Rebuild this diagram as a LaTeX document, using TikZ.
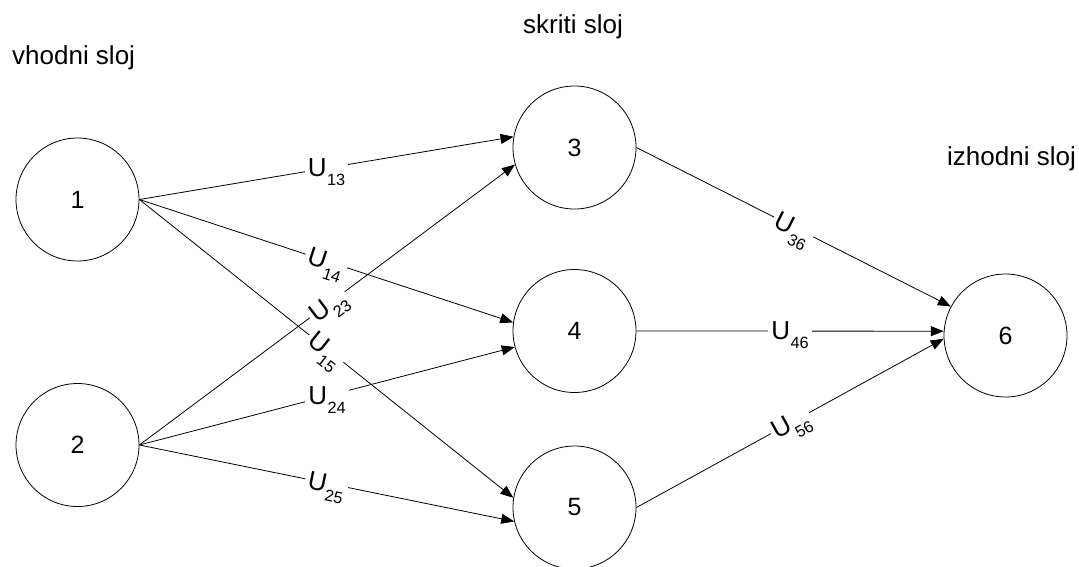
\documentclass[tikz,border=0pt]{standalone}
\usepackage{fontspec}
\setmainfont{Liberation Sans}
\usetikzlibrary{arrows.meta}
% weight label: U with a lowered index that does not shift the label's centre
\newcommand{\wlab}[1]{U\kern0.5pt\raisebox{-9pt}[0pt][0pt]{\fontsize{16.3}{16}\selectfont #1}}
\begin{document}
\begin{tikzpicture}[x=1pt,y=-1pt,
  neuron/.style={circle,draw,line width=0.8pt,minimum size=123pt,inner sep=0pt,
                 font=\fontsize{25}{30}\selectfont},
  conn/.style={line width=0.8pt,-{Triangle[length=13pt,width=10pt]}},
  wlbl/.style={fill=white,inner xsep=3pt,inner ysep=2pt,font=\fontsize{26}{30}\selectfont},
  layer/.style={anchor=base west,inner sep=0pt,font=\fontsize{26}{30}\selectfont}]
\useasboundingbox (0,0) rectangle (1079,566);

% layer captions
\node[layer] (tin)  at (12,64)   {vhodni sloj};
\node[layer] (thid) at (523,33)  {skriti sloj};
\node[layer] (tout) at (947,165) {izhodni sloj};

% neurons
\node[neuron] (n1) at (77.5,199.5)  {1};
\node[neuron] (n2) at (77.5,445)    {2};
\node[neuron] (n3) at (574.5,147.5) {3};
\node[neuron] (n4) at (574.5,331)   {4};
\node[neuron] (n5) at (574.5,507.5) {5};
\node[neuron] (n6) at (1005.5,335.5){6};

% input -> hidden
\draw[conn] (n1.east) -- node[wlbl] (l13) {\wlab{13}} (n3.170);
\draw[conn] (n1.east) -- node[wlbl,sloped] (l14) {\wlab{14}} (n4.172);
\draw[conn] (n1.east) -- node[wlbl,sloped] (l15) {\wlab{15}} (n5.171);
\draw[conn] (n2.east) -- node[wlbl,sloped] (l23) {\wlab{23}} (n3.196);
\draw[conn] (n2.east) -- node[wlbl] (l24) {\wlab{24}} (n4.195);
\draw[conn] (n2.east) -- node[wlbl,sloped] (l25) {\wlab{25}} (n5.193);

% hidden -> output
\draw[conn] (n3.east) -- node[wlbl,sloped] (l36) {\wlab{36}} (n6.152);
\draw[conn] (n4.east) -- node[wlbl] (l46) {\wlab{46}} (n6.176);
\draw[conn] (n5.east) -- node[wlbl,sloped] (l56) {\wlab{56}} (n6.183);
\end{tikzpicture}
\end{document}
